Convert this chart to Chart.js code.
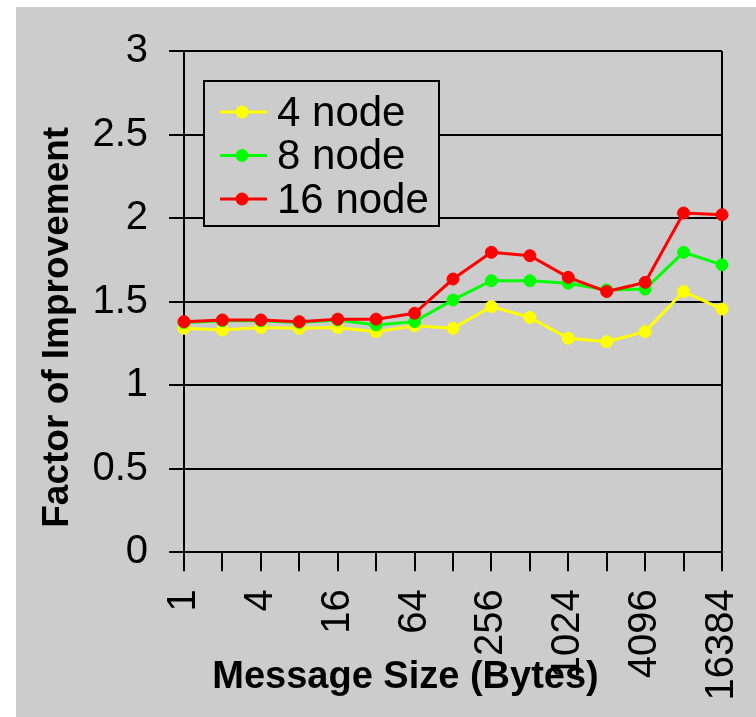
<!DOCTYPE html>
<html>
<head>
<meta charset="utf-8">
<script src="https://cdn.jsdelivr.net/npm/chart.js@4"></script>
<style>
  body { margin: 0; background: #ffffff; }
  #wrap { width: 756px; height: 717px; }
</style>
</head>
<body>
<div id="wrap"><canvas id="perfChart" width="756" height="717"></canvas></div>
<script>
// Message sizes in bytes (x axis categories)
const msgSizes = ['1', '2', '4', '8', '16', '32', '64', '128', '256', '512', '1024', '2048', '4096', '8192', '16384'];

// Factor of improvement per node count
const node4 = [1.34, 1.33, 1.345, 1.34, 1.345, 1.32, 1.355, 1.34, 1.47, 1.405, 1.28, 1.26, 1.32, 1.56, 1.455];
const node8 = [1.375, 1.385, 1.385, 1.375, 1.39, 1.36, 1.38, 1.51, 1.625, 1.625, 1.61, 1.57, 1.575, 1.795, 1.72];
const node16 = [1.38, 1.39, 1.39, 1.38, 1.395, 1.395, 1.43, 1.635, 1.795, 1.775, 1.645, 1.56, 1.615, 2.03, 2.02];

const seriesNames = ['4 node', '8 node', '16 node'];
const seriesColors = ['#ffff00', '#00ff00', '#ff0000'];

const FONT = '"Liberation Sans", Arial, sans-serif';
const BG = '#cccccc';

// gray panel with a thin white margin top/left
const panelBg = {
  id: 'panelBg',
  beforeDraw(chart) {
    const ctx = chart.ctx;
    ctx.save();
    ctx.fillStyle = '#ffffff';
    ctx.fillRect(0, 0, chart.width, chart.height);
    ctx.fillStyle = BG;
    ctx.fillRect(16, 7, chart.width - 16, chart.height - 7);
    ctx.restore();
  }
};

// boxed legend sitting inside the plot area
const innerLegend = {
  id: 'innerLegend',
  afterDraw(chart) {
    const ctx = chart.ctx;
    const area = chart.chartArea;
    const x0 = area.left + 20, y0 = area.top + 30;
    const w = 235, h = 145;
    ctx.save();
    ctx.fillStyle = BG;
    ctx.fillRect(x0, y0, w, h);
    ctx.strokeStyle = '#000000';
    ctx.lineWidth = 2;
    ctx.strokeRect(x0, y0, w, h);
    ctx.font = '42px ' + FONT;
    ctx.textBaseline = 'middle';
    chart.data.datasets.forEach((ds, i) => {
      const cy = y0 + 31 + i * 43.5;
      ctx.strokeStyle = ds.borderColor;
      ctx.lineWidth = 3;
      ctx.beginPath();
      ctx.moveTo(x0 + 16, cy);
      ctx.lineTo(x0 + 63, cy);
      ctx.stroke();
      ctx.fillStyle = ds.borderColor;
      ctx.beginPath();
      ctx.arc(x0 + 38, cy, 6.5, 0, Math.PI * 2);
      ctx.fill();
      ctx.fillStyle = '#000000';
      ctx.fillText(ds.label, x0 + 73, cy + 2);
    });
    ctx.restore();
  }
};

function makeSeries(label, data, color, order) {
  return {
    label: label,
    data: data,
    borderColor: color,
    backgroundColor: color,
    borderWidth: 3,
    pointRadius: 6,
    pointBorderWidth: 1,
    pointBackgroundColor: color,
    pointBorderColor: color,
    tension: 0,
    order: order
  };
}

new Chart(document.getElementById('perfChart'), {
  type: 'line',
  data: {
    labels: msgSizes,
    datasets: [
      makeSeries(seriesNames[0], node4, seriesColors[0], 3),
      makeSeries(seriesNames[1], node8, seriesColors[1], 2),
      makeSeries(seriesNames[2], node16, seriesColors[2], 1)
    ]
  },
  options: {
    responsive: false,
    animation: false,
    layout: { padding: { left: 20, top: 51, right: 34, bottom: 12 } },
    plugins: {
      legend: { display: false },
      tooltip: { enabled: false }
    },
    scales: {
      x: {
        offset: false,
        grid: {
          drawOnChartArea: true,
          color: ctx => ctx.index === msgSizes.length - 1 ? '#000000' : 'rgba(0,0,0,0)',
          tickColor: '#000000',
          lineWidth: 2,
          tickLength: 19
        },
        border: { display: true, color: '#000000', width: 2 },
        ticks: {
          autoSkip: false,
          minRotation: 90,
          maxRotation: 90,
          padding: 18,
          color: '#000000',
          font: { family: FONT, size: 40, lineHeight: 0.4 },
          callback: function (val, idx) { return idx % 2 === 0 ? this.getLabelForValue(val) : ''; }
        },
        title: {
          display: true,
          text: 'Message Size (Bytes)         ',
          color: '#000000',
          font: { family: FONT, size: 38, weight: 'bold' },
          padding: { top: -64, bottom: 5 }
        }
      },
      y: {
        min: 0,
        max: 3,
        ticks: {
          stepSize: 0.5,
          padding: 21,
          color: '#000000',
          font: { family: FONT, size: 40 },
          callback: v => String(v)
        },
        grid: {
          color: '#000000',
          lineWidth: 2,
          tickLength: 15
        },
        border: { display: true, color: '#000000', width: 2 },
        title: {
          display: true,
          text: 'Factor of Improvement     ',
          color: '#000000',
          font: { family: FONT, size: 37, weight: 'bold' },
          padding: { top: 16, bottom: -9 }
        }
      }
    }
  },
  plugins: [panelBg, innerLegend]
});
</script>
</body>
</html>
